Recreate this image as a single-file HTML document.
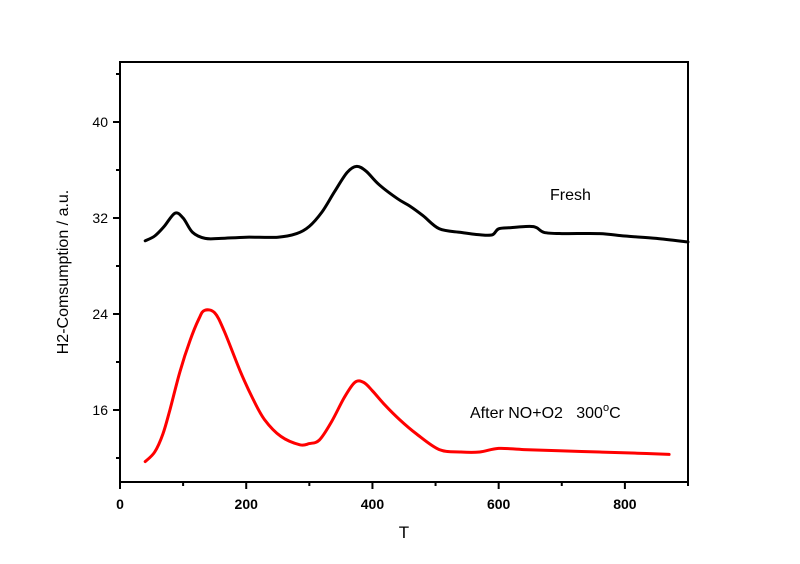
<!DOCTYPE html>
<html><head><meta charset="utf-8"><style>
html,body{margin:0;padding:0;background:#fff}
svg{display:block;font-family:"Liberation Sans",Arial,sans-serif}
</style></head><body>
<svg id="chart" width="800" height="564" viewBox="0 0 800 564" xmlns="http://www.w3.org/2000/svg">
<g id="axes"></g>
<g id="series"></g>
<text x="550" y="200" font-size="16">Fresh</text>
<text x="470" y="418" font-size="16" xml:space="preserve">After NO+O2   300<tspan dy="-7" font-size="11">o</tspan><tspan dy="7">C</tspan></text>
<text x="404" y="538" font-size="17" text-anchor="middle">T</text>
<text transform="translate(68,272) rotate(-90)" font-size="16" text-anchor="middle">H2-Comsumption / a.u.</text>
</svg>
<script>
const xMajorTicks=[0,200,400,600,800];
const xMinorTicks=[100,300,500,700,900];
const yMajorTicks=[16,24,32,40];
const yMinorTicks=[12,20,28,36,44];
const freshT=[40,55,70,87,100,115,135,160,200,250,280,300,320,340,360,375,390,410,440,459,480,506,540,570,590,600,620,649,660,672,700,760,800,850,900];
const freshV=[30.1,30.5,31.3,32.4,32.0,30.8,30.3,30.3,30.4,30.4,30.7,31.3,32.5,34.2,35.8,36.3,35.9,34.8,33.6,33.0,32.2,31.1,30.8,30.6,30.6,31.1,31.2,31.3,31.2,30.8,30.7,30.7,30.5,30.3,30.0];
const afterT=[40,55,68,79,95,111,125,134,150,165,190,210,229,255,285,300,316,335,355,372,386,400,420,443,470,506,540,570,600,640,696,760,820,870];
const afterV=[11.7,12.5,14.0,16.0,19.2,21.8,23.6,24.3,24.1,22.6,19.3,17.0,15.2,13.8,13.1,13.2,13.5,15.0,17.0,18.3,18.3,17.6,16.4,15.2,14.0,12.7,12.5,12.5,12.8,12.7,12.6,12.5,12.4,12.3];
const X0=120,X1=688,Y0=482,Y1=62,xmin=0,xmax=900,ymin=10,ymax=45;
const sx=t=>X0+(t-xmin)/(xmax-xmin)*(X1-X0);
const sy=v=>Y0-(v-ymin)/(ymax-ymin)*(Y0-Y1);
const NS="http://www.w3.org/2000/svg";
const axes=document.getElementById('axes');
function mk(tag,attrs,parent){const e=document.createElementNS(NS,tag);for(const k in attrs)e.setAttribute(k,attrs[k]);parent.appendChild(e);return e;}
const frame=mk('rect',{x:X0,y:Y1,width:X1-X0,height:Y0-Y1,fill:'none',stroke:'#000','stroke-width':2},axes);


xMajorTicks.forEach(t=>{
  const l=mk('line',{x1:sx(t),x2:sx(t),y1:Y0,y2:Y0+7,stroke:'#000','stroke-width':2},axes);
  
  
  const tx=mk('text',{x:sx(t),y:Y0+27,'font-size':14,'font-weight':'bold','text-anchor':'middle'},axes);
  tx.textContent=t;
  
  
});
xMinorTicks.forEach(t=>{
  const l=mk('line',{x1:sx(t),x2:sx(t),y1:Y0,y2:Y0+4,stroke:'#000','stroke-width':2},axes);
  
  
});
yMajorTicks.forEach(v=>{
  const l=mk('line',{x1:X0-7,x2:X0,y1:sy(v),y2:sy(v),stroke:'#000','stroke-width':2},axes);
  
  
  const tx=mk('text',{x:X0-12,y:sy(v)+5,'font-size':14,'text-anchor':'end'},axes);
  tx.textContent=v;
  
  
});
yMinorTicks.forEach(v=>{
  const l=mk('line',{x1:X0-4,x2:X0,y1:sy(v),y2:sy(v),stroke:'#000','stroke-width':2},axes);
  
  
});
const series=document.getElementById('series');
function line(T,V,color,name){
  const P=T.map((t,i)=>[sx(t),sy(V[i])]);
  let d='M'+P[0][0].toFixed(1)+','+P[0][1].toFixed(1);
  for(let i=0;i<P.length-1;i++){
    const p0=P[i-1]||P[i],p1=P[i],p2=P[i+1],p3=P[i+2]||P[i+1];
    const c1=[p1[0]+(p2[0]-p0[0])/6,p1[1]+(p2[1]-p0[1])/6];
    const c2=[p2[0]-(p3[0]-p1[0])/6,p2[1]-(p3[1]-p1[1])/6];
    d+='C'+c1[0].toFixed(1)+','+c1[1].toFixed(1)+' '+c2[0].toFixed(1)+','+c2[1].toFixed(1)+' '+p2[0].toFixed(1)+','+p2[1].toFixed(1);
  }
  const p=mk('path',{d:d,fill:'none',stroke:color,'stroke-width':3,'stroke-linejoin':'round','stroke-linecap':'round'},series);
  
  
}
line(freshT,freshV,'#000','fresh-line');
line(afterT,afterV,'#f00','after-no-o2-line');
</script>
</body></html>
